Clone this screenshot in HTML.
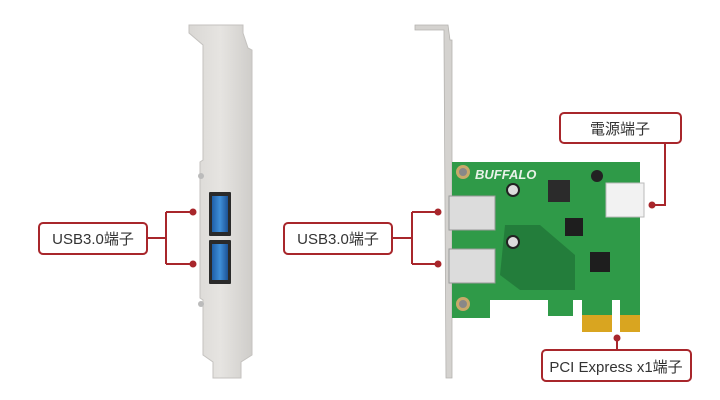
<!DOCTYPE html>
<html><head><meta charset="utf-8"><style>
html,body{margin:0;padding:0;background:#fff;width:720px;height:400px;overflow:hidden}
</style></head><body>
<svg width="720" height="400" viewBox="0 0 720 400" xmlns="http://www.w3.org/2000/svg">
<defs>
<linearGradient id="met" x1="0" x2="1"><stop offset="0" stop-color="#d9d7d4"/><stop offset="0.5" stop-color="#e6e4e1"/><stop offset="1" stop-color="#cfcdca"/></linearGradient>
<linearGradient id="blue" x1="0" x2="1"><stop offset="0" stop-color="#1f5fa8"/><stop offset="0.5" stop-color="#3f8fd8"/><stop offset="1" stop-color="#1c5296"/></linearGradient>
</defs>
<!-- left bracket -->
<path d="M189,25 L243,25 L243,33 L248,48 L252,50 L252,355 L241,362 L241,378 L213,378 L213,362 L203,355 L203,300 L200,298 L200,162 L203,160 L203,45 L189,33 Z" fill="url(#met)" stroke="#c4c2bf" stroke-width="1"/>
<rect x="209" y="192" width="22" height="44" fill="#2a2a2a" rx="1"/>
<rect x="212" y="196" width="16" height="36" fill="url(#blue)"/>
<rect x="209" y="240" width="22" height="44" fill="#2a2a2a" rx="1"/>
<rect x="212" y="244" width="16" height="36" fill="url(#blue)"/>
<circle cx="201" cy="176" r="3" fill="#bbb"/><circle cx="201" cy="304" r="3" fill="#bbb"/>
<!-- right bracket -->
<path d="M415,25 L448,25 L450,40 L452,40 L452,378 L446,378 L444,40 L444,30 L415,30 Z" fill="#d4d2cf" stroke="#b5b3b0" stroke-width="0.8"/>
<!-- PCB -->
<path d="M452,162 L640,162 L640,300 L640,318 L620,318 L620,300 L612,300 L612,318 L582,318 L582,300 L573,300 L573,316 L548,316 L548,300 L490,300 L490,318 L452,318 Z" fill="#2f9a48"/>
<path d="M505,225 L540,225 L575,255 L575,290 L520,290 L500,275 Z" fill="#1d6a33" opacity="0.6"/>
<rect x="582" y="315" width="30" height="17" fill="#d9a520"/>
<rect x="620" y="315" width="20" height="17" fill="#d9a520"/>
<text x="475" y="179" font-family="Liberation Sans, sans-serif" font-size="13" font-weight="bold" font-style="italic" fill="#e8f2e8">BUFFALO</text>
<circle cx="463" cy="172" r="7" fill="#c8a96a"/><circle cx="463" cy="172" r="4" fill="#888"/>
<circle cx="463" cy="304" r="7" fill="#c8a96a"/><circle cx="463" cy="304" r="4" fill="#888"/>
<rect x="548" y="180" width="22" height="22" fill="#2b2b2b"/>
<rect x="565" y="218" width="18" height="18" fill="#1e1e1e"/>
<rect x="590" y="252" width="20" height="20" fill="#1e1e1e"/>
<circle cx="513" cy="190" r="7" fill="#222"/><circle cx="513" cy="190" r="5" fill="#ddd"/>
<circle cx="513" cy="242" r="7" fill="#222"/><circle cx="513" cy="242" r="5" fill="#ddd"/>
<circle cx="597" cy="176" r="6" fill="#222"/>
<rect x="449" y="196" width="46" height="34" fill="#dcdcdc" stroke="#999"/>
<rect x="449" y="249" width="46" height="34" fill="#dcdcdc" stroke="#999"/>
<rect x="606" y="183" width="38" height="34" fill="#f2f2f2" stroke="#bbb"/>
<!-- connectors -->
<g stroke="#a8262b" stroke-width="2" fill="none">
<path d="M147,238 H166 M166,212 V264 M166,212 H193 M166,264 H193"/>
<path d="M392,238 H412 M412,212 V264 M412,212 H438 M412,264 H438"/>
<path d="M665,143 V205 H652"/>
<path d="M617,338 V350"/>
</g>
<g fill="#a8262b"><circle cx="193" cy="212" r="3.5"/><circle cx="193" cy="264" r="3.5"/>
<circle cx="438" cy="212" r="3.5"/><circle cx="438" cy="264" r="3.5"/>
<circle cx="652" cy="205" r="3.5"/><circle cx="617" cy="338" r="3.5"/></g>
<g fill="#fff" stroke="#a8262b" stroke-width="2">
<rect x="39" y="223" width="108" height="31" rx="4"/>
<rect x="284" y="223" width="108" height="31" rx="4"/>
<rect x="560" y="113" width="121" height="30" rx="4"/>
<rect x="542" y="350" width="149" height="31" rx="4"/>
</g>
<g font-family="Liberation Sans, Noto Sans CJK JP, sans-serif" font-size="15" fill="#333" text-anchor="middle">
<text x="93" y="244">USB3.0端子</text>
<text x="338" y="244">USB3.0端子</text>
<text x="620" y="134">電源端子</text>
<text x="616" y="372">PCI Express x1端子</text>
</g>
</svg>
</body></html>
